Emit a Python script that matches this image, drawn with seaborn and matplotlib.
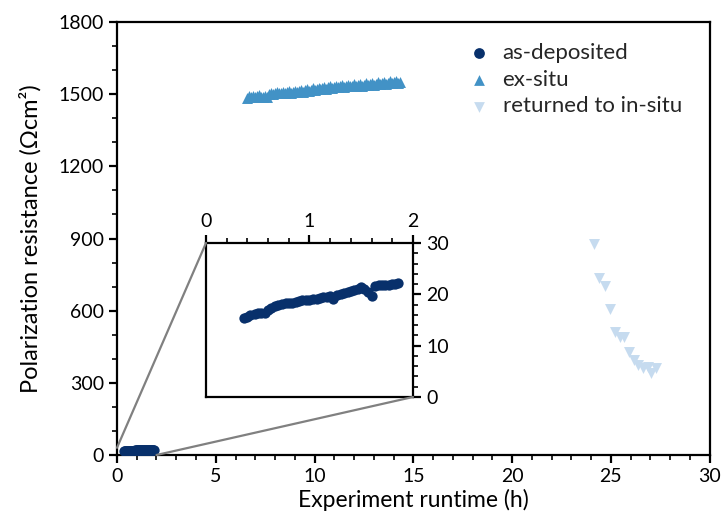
import matplotlib
matplotlib.use("Agg")
import matplotlib.pyplot as plt
from matplotlib.patches import ConnectionPatch
from matplotlib.ticker import MultipleLocator
import seaborn as sns
import pandas as pd

# As-deposited cell, first two hours
asdep_time = [0.37, 0.40, 0.43, 0.47, 0.50, 0.53, 0.57, 0.60, 0.63, 0.67, 0.70, 0.73,
              0.77, 0.80, 0.83, 0.87, 0.90, 0.93, 0.97, 1.00, 1.03, 1.07, 1.10, 1.13,
              1.17, 1.20, 1.23, 1.27, 1.30, 1.33, 1.37, 1.40, 1.43, 1.47, 1.50, 1.53,
              1.57, 1.60, 1.63, 1.67, 1.70, 1.73, 1.77, 1.80, 1.83, 1.86]
asdep_rp = [15.3, 15.6, 15.9, 16.1, 16.3, 16.4, 16.3, 16.9, 17.4, 17.8, 17.9, 18.1,
            18.3, 18.4, 18.4, 18.6, 18.7, 18.8, 18.8, 18.9, 19.0, 19.1, 19.2, 19.4,
            19.5, 19.6, 19.0, 19.9, 20.1, 20.3, 20.5, 20.6, 20.8, 21.1, 21.4, 21.0,
            20.4, 19.7, 21.7, 21.8, 21.8, 21.9, 21.9, 22.0, 22.1, 22.2]

# Ex-situ measurements
exsitu_time = [6.6, 6.7, 6.8, 6.9, 7.0, 7.1, 7.2, 7.3, 7.4, 7.5, 7.6, 7.7, 7.8, 7.9,
               8.0, 8.1, 8.2, 8.3, 8.4, 8.5, 8.6, 8.7, 8.8, 8.9, 9.0, 9.1, 9.2, 9.3,
               9.4, 9.5, 9.6, 9.7, 9.8, 9.9, 10.0, 10.1, 10.2, 10.3, 10.4, 10.5, 10.6,
               10.7, 10.8, 10.9, 11.0, 11.1, 11.2, 11.3, 11.4, 11.5, 11.6, 11.7, 11.8,
               11.9, 12.0, 12.1, 12.2, 12.3, 12.4, 12.5, 12.6, 12.7, 12.8, 12.9, 13.0,
               13.1, 13.2, 13.3, 13.4, 13.5, 13.6, 13.7, 13.8, 13.9, 14.0, 14.1, 14.2, 14.3]
exsitu_rp = [1486, 1492, 1489, 1494, 1488, 1491, 1495, 1489, 1487, 1492, 1490, 1502, 1506, 1500,
             1504, 1509, 1503, 1507, 1511, 1505, 1508, 1513, 1506, 1510, 1515, 1509, 1512, 1518,
             1511, 1516, 1521, 1514, 1519, 1524, 1517, 1522, 1527, 1520, 1525, 1530, 1523,
             1528, 1533, 1526, 1531, 1535, 1528, 1532, 1537, 1530, 1534, 1539, 1532,
             1536, 1541, 1534, 1538, 1543, 1536, 1540, 1545, 1538, 1542, 1547, 1540,
             1544, 1550, 1542, 1546, 1552, 1544, 1548, 1554, 1546, 1550, 1555, 1548, 1552]

# Returned to in-situ
insitu_time = [24.12, 24.42, 24.70, 24.96, 25.20, 25.47, 25.68, 25.92, 26.15, 26.37,
               26.62, 26.90, 27.03, 27.26]
insitu_rp = [878, 734, 704, 606, 512, 492, 492, 429, 395, 374, 360, 364, 340, 363]

labels = ["as-deposited", "ex-situ", "returned to in-situ"]
colors = ["#08306b", "#4292c6", "#c6dbef"]
markers = ["o", "^", "v"]

sns.set_theme(style="ticks")
plt.rcParams["font.family"] = ["Lato", "DejaVu Sans"]
plt.rcParams["axes.linewidth"] = 1.6
plt.rcParams["axes.edgecolor"] = "black"

fig = plt.figure(figsize=(7.22, 5.32), dpi=100)
ax = fig.add_axes([0.162, 0.1447, 0.821, 0.8139])

series = [
    pd.DataFrame({"t": asdep_time, "rp": asdep_rp}),
    pd.DataFrame({"t": exsitu_time, "rp": exsitu_rp}),
    pd.DataFrame({"t": insitu_time, "rp": insitu_rp}),
]
sizes = [55, 62, 62]
for df, lab, col, mk, sz in zip(series, labels, colors, markers, sizes):
    sns.scatterplot(data=df, x="t", y="rp", ax=ax, color=col, marker=mk,
                    s=sz, linewidth=0, label=lab, zorder=3)

ax.set_xlim(0, 30)
ax.set_ylim(0, 1800)
ax.xaxis.set_major_locator(MultipleLocator(5))
ax.xaxis.set_minor_locator(MultipleLocator(1))
ax.yaxis.set_major_locator(MultipleLocator(300))
ax.yaxis.set_minor_locator(MultipleLocator(100))
ax.tick_params(which="major", length=6, width=1.6, labelsize=14, color="black", labelcolor="black")
ax.tick_params(which="minor", length=3.5, width=1.2, color="black")
ax.set_xlabel("Experiment runtime (h)", fontsize=16.5, color="black", labelpad=3)
ax.set_ylabel("Polarization resistance (Ωcm²)", fontsize=17, color="black", labelpad=12)
for sp in ax.spines.values():
    sp.set_visible(True)

leg = ax.legend(loc="upper right", frameon=False, fontsize=16, handletextpad=0.45,
                labelspacing=0.3, borderaxespad=0, handlelength=1.2,
                bbox_to_anchor=(0.968, 0.972))
for h in leg.legend_handles:
    h.set_sizes([60])

# Zoomed view of the first two hours
axin = fig.add_axes([0.2853, 0.2538, 0.2867, 0.2894])
sns.scatterplot(data=series[0], x="t", y="rp", ax=axin, color=colors[0], marker="o",
                s=55, linewidth=0, legend=False, zorder=3)
axin.set_xlim(0, 2)
axin.set_ylim(0, 30)
axin.set_xlabel("")
axin.set_ylabel("")
axin.xaxis.tick_top()
axin.yaxis.tick_right()
axin.xaxis.set_major_locator(MultipleLocator(1))
axin.xaxis.set_minor_locator(MultipleLocator(0.2))
axin.yaxis.set_major_locator(MultipleLocator(10))
axin.yaxis.set_minor_locator(MultipleLocator(2))
axin.tick_params(which="major", length=6, width=1.6, labelsize=14, color="black", labelcolor="black")
axin.tick_params(which="minor", length=3.5, width=1.2, color="black")
for sp in axin.spines.values():
    sp.set_visible(True)
    sp.set_linewidth(1.6)

for (xa, ya), (xb, yb) in [((0, 30), (0, 1)), ((2, 0), (1, 0))]:
    con = ConnectionPatch(xyA=(xa, ya), coordsA=ax.transData,
                          xyB=(xb, yb), coordsB=axin.transAxes,
                          color="#808080", linewidth=1.6, zorder=1)
    fig.add_artist(con)

fig.savefig("out.png", dpi=100)
